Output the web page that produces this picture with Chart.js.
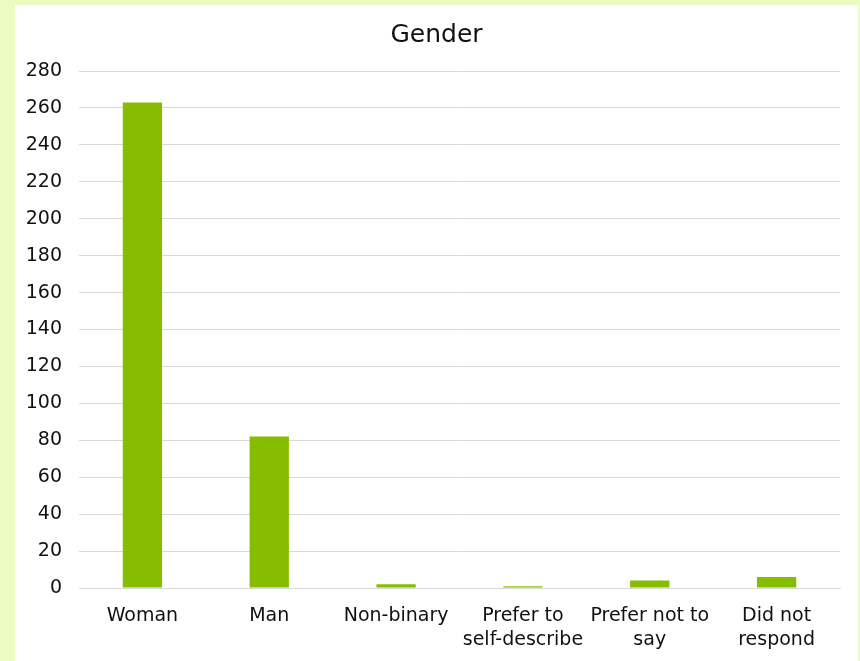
<!DOCTYPE html>
<html>
<head>
<meta charset="utf-8">
<script src="https://cdn.jsdelivr.net/npm/chart.js@4"></script>
<style>
    body { margin: 0; background: #ebfcc2; }
    #wrap { position: absolute; left: 15px; top: 5px; width: 843px; height: 656px; background: #fff; }
</style>
</head>
<body>
<div id="wrap"><canvas id="genderChart"></canvas></div>
<script>
const categories = ['Woman', 'Man', 'Non-binary', ['Prefer to', 'self-describe'], ['Prefer not to', 'say'], ['Did not', 'respond']];
const counts = [263, 82, 2, 1, 4, 6];
const yMax = 280;
const yStep = 20;

document.addEventListener('DOMContentLoaded', function() {
    const ctx = document.getElementById('genderChart').getContext('2d');
    Chart.defaults.font.family = '"DejaVu Sans", sans-serif';
    Chart.defaults.color = '#111';
    new Chart(ctx, {
        type: 'bar',
        data: {
            labels: categories,
            datasets: [{
                label: 'Gender',
                data: counts,
                backgroundColor: '#86bd00',
                categoryPercentage: 1,
                barPercentage: 0.31
            }]
        },
        options: {
            responsive: true,
            maintainAspectRatio: false,
            animation: false,
            layout: { padding: 0 },
            plugins: {
                legend: { display: false },
                tooltip: { enabled: false },
                title: {
                    display: true,
                    text: 'Gender',
                    color: '#111',
                    font: { size: 25, weight: 'normal' },
                    padding: { top: 15, bottom: 21 }
                }
            },
            scales: {
                x: {
                    grid: { display: false, drawTicks: false },
                    border: { display: true, color: '#d9d9d9', width: 1 },
                    ticks: { font: { size: 19, lineHeight: 1.26 }, padding: 16, maxRotation: 0, autoSkip: false },
                    afterFit: function(scale) { scale.height = 73; }
                },
                y: {
                    min: 0,
                    max: yMax,
                    grid: { color: '#d9d9d9', drawTicks: false },
                    border: { display: false },
                    ticks: { stepSize: yStep, font: { size: 19 }, padding: 17 },
                    afterFit: function(scale) { scale.width = 64; }
                },
                // empty right-hand gutter so the plot ends short of the edge
                gutter: {
                    type: 'linear',
                    position: 'right',
                    grid: { display: false, drawTicks: false },
                    border: { display: false },
                    ticks: { display: false },
                    afterFit: function(scale) { scale.width = 18; }
                }
            }
        }
    });
});
</script>
</body>
</html>
